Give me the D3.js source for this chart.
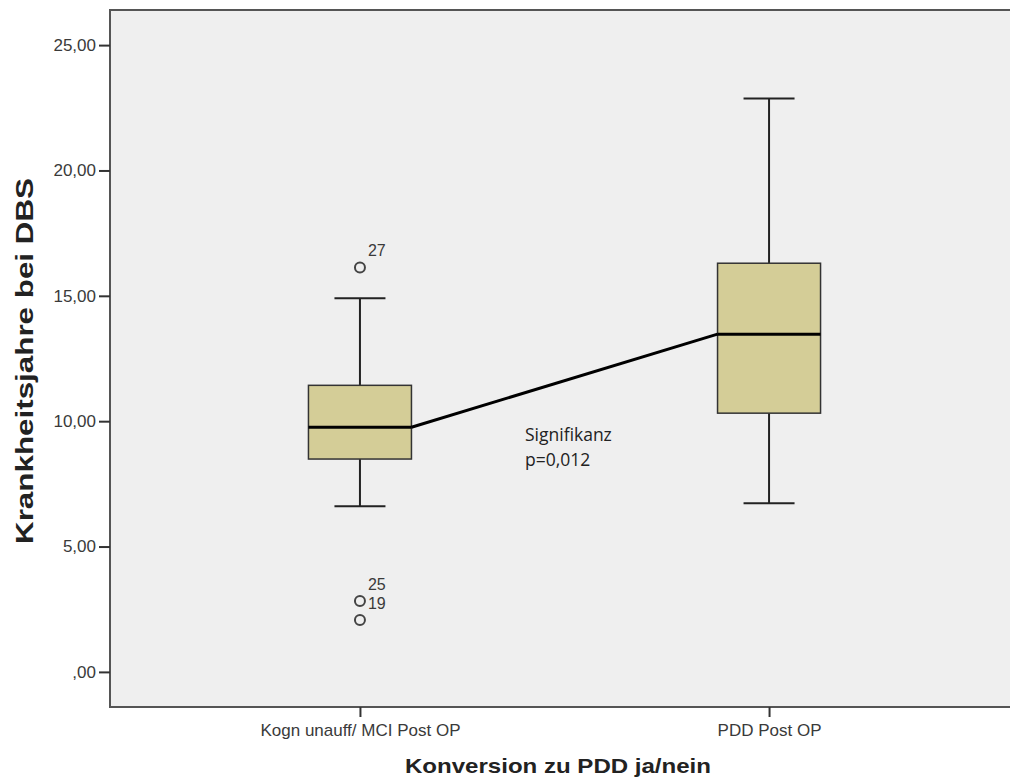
<!DOCTYPE html><html><head><meta charset="UTF-8"><script src="https://d3js.org/d3.v7.min.js"></script><style>
            body { margin: 0; background: #fff; }
            #chart { width: 1010px; height: 780px; font-family: Arial, "Liberation Sans", sans-serif; }
        </style></head><body><div id="chart"></div><script>
            const categories = ["Kogn unauff/ MCI Post OP", "PDD Post OP"];
            const whiskerLow = [6.61, 6.73];
            const q1 = [8.49, 10.32];
            const median = [9.76, 13.47];
            const q3 = [11.43, 16.3];
            const whiskerHigh = [14.9, 22.87];
            const outlierGroup = [0, 0, 0];
            const outlierValue = [16.13, 2.83, 2.07];
            const outlierId = ["27", "25", "19"];
            const yTicks = [0, 5, 10, 15, 20, 25];

            const fullWidth = 1010, fullHeight = 780;
            const plotLeft = 110, plotTop = 10, plotRight = 1019, plotBottom = 707;

            const svg = d3.select('#chart').append('svg')
                .attr('width', fullWidth)
                .attr('height', fullHeight);

            const y = d3.scaleLinear().domain([-1.4, 26.4]).range([plotBottom, plotTop]);
            const x = d3.scalePoint().domain(categories).range([plotLeft, plotRight]).padding(0.611);

            // plot background
            svg.append('rect')
                .attr('x', plotLeft).attr('y', plotTop)
                .attr('width', plotRight - plotLeft).attr('height', plotBottom - plotTop)
                .attr('fill', '#efefef')
                .attr('stroke', '#555').attr('stroke-width', 2);

            const fmt = v => v === 0 ? ',00' : d3.format('.2f')(v).replace('.', ',');

            svg.append('g')
                .attr('transform', `translate(${plotLeft},0)`)
                .call(d3.axisLeft(y).tickValues(yTicks).tickFormat(fmt).tickSize(11).tickPadding(3))
                .call(g => g.select('.domain').remove())
                .call(g => g.selectAll('.tick line').attr('stroke', '#333').attr('stroke-width', 2))
                .call(g => g.selectAll('.tick text').attr('font-size', 17).attr('font-family', 'Arial, sans-serif').attr('fill', '#3a3a3a'));

            svg.append('g')
                .attr('transform', `translate(0,${plotBottom})`)
                .call(d3.axisBottom(x).tickSize(10).tickPadding(7))
                .call(g => g.select('.domain').remove())
                .call(g => g.selectAll('.tick line').attr('stroke', '#333').attr('stroke-width', 2))
                .call(g => g.selectAll('.tick text').attr('font-size', 17).attr('font-family', 'Arial, sans-serif').attr('fill', '#3a3a3a'));

            const boxW = 103, capW = 51;
            const groups = svg.selectAll('.box')
                .data(categories)
                .enter().append('g')
                .attr('class', 'box');

            // whiskers
            groups.append('line')
                .attr('x1', d => x(d)).attr('x2', d => x(d))
                .attr('y1', (d, i) => y(whiskerHigh[i])).attr('y2', (d, i) => y(q3[i]))
                .attr('stroke', '#222').attr('stroke-width', 2);
            groups.append('line')
                .attr('x1', d => x(d)).attr('x2', d => x(d))
                .attr('y1', (d, i) => y(q1[i])).attr('y2', (d, i) => y(whiskerLow[i]))
                .attr('stroke', '#222').attr('stroke-width', 2);
            groups.append('line')
                .attr('x1', d => x(d) - capW / 2).attr('x2', d => x(d) + capW / 2)
                .attr('y1', (d, i) => y(whiskerHigh[i])).attr('y2', (d, i) => y(whiskerHigh[i]))
                .attr('stroke', '#222').attr('stroke-width', 2);
            groups.append('line')
                .attr('x1', d => x(d) - capW / 2).attr('x2', d => x(d) + capW / 2)
                .attr('y1', (d, i) => y(whiskerLow[i])).attr('y2', (d, i) => y(whiskerLow[i]))
                .attr('stroke', '#222').attr('stroke-width', 2);

            groups.append('rect')
                .attr('x', d => x(d) - boxW / 2)
                .attr('y', (d, i) => y(q3[i]))
                .attr('width', boxW)
                .attr('height', (d, i) => y(q1[i]) - y(q3[i]))
                .attr('fill', '#d4cd97')
                .attr('stroke', '#333').attr('stroke-width', 1.5);

            groups.append('line')
                .attr('x1', d => x(d) - boxW / 2).attr('x2', d => x(d) + boxW / 2)
                .attr('y1', (d, i) => y(median[i])).attr('y2', (d, i) => y(median[i]))
                .attr('stroke', '#000').attr('stroke-width', 3);

            // connecting line between medians
            svg.append('line')
                .attr('x1', x(categories[0]) + boxW / 2).attr('y1', y(median[0]))
                .attr('x2', x(categories[1]) - boxW / 2).attr('y2', y(median[1]))
                .attr('stroke', '#000').attr('stroke-width', 3);

            // outliers
            const outliers = outlierValue.map((v, i) => ({g: categories[outlierGroup[i]], v, id: outlierId[i]}));
            svg.selectAll('.outlier')
                .data(outliers)
                .enter().append('circle')
                .attr('class', 'outlier')
                .attr('cx', d => x(d.g)).attr('cy', d => y(d.v))
                .attr('r', 5)
                .attr('fill', 'none').attr('stroke', '#444').attr('stroke-width', 2);
            svg.selectAll('.outlier-label')
                .data(outliers)
                .enter().append('text')
                .attr('class', 'outlier-label')
                .attr('x', d => x(d.g) + 8).attr('y', d => y(d.v) - 11)
                .attr('font-size', 16).attr('fill', '#3a3a3a')
                .text(d => d.id);

            // significance annotation
            const sig = svg.append('text')
                .attr('font-family', '"Open Sans", sans-serif')
                .attr('font-size', 17.5).attr('fill', '#222');
            sig.append('tspan').attr('x', 525).attr('y', 441).text('Signifikanz');
            sig.append('tspan').attr('x', 525).attr('y', 466).text('p=0,012');

            // axis titles
            svg.append('text')
                .attr('x', 558).attr('y', 773)
                .attr('text-anchor', 'middle')
                .attr('font-size', 21).attr('font-weight', 'bold').attr('fill', '#222')
                .attr('textLength', 306).attr('lengthAdjust', 'spacingAndGlyphs')
                .text('Konversion zu PDD ja/nein');

            svg.append('text')
                .attr('transform', 'translate(33,361) rotate(-90)')
                .attr('text-anchor', 'middle')
                .attr('font-size', 24).attr('font-weight', 'bold').attr('fill', '#222')
                .attr('textLength', 366).attr('lengthAdjust', 'spacingAndGlyphs')
                .text('Krankheitsjahre bei DBS');
        </script></body></html>
